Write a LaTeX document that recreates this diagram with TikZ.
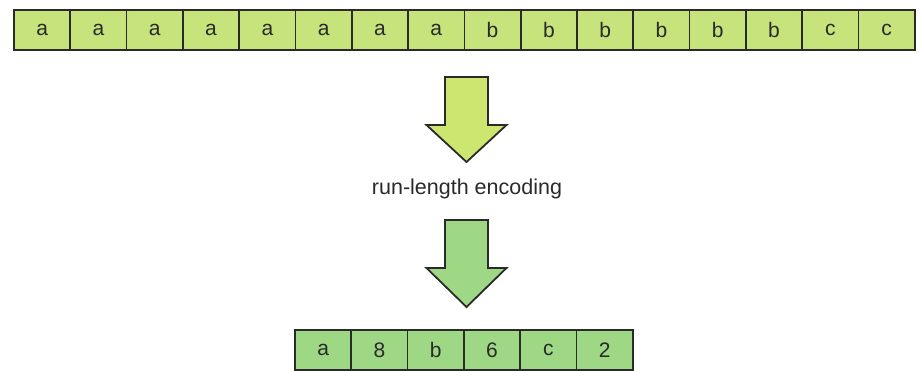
\documentclass[tikz,border=0pt]{standalone}
\usepackage{fontspec}
\setmainfont{Liberation Sans}
\usepackage{xcolor}
\usepackage{tikz}
\definecolor{lime}{HTML}{C6E37C}
\definecolor{leaf}{HTML}{9ED884}
\definecolor{ink}{HTML}{2A2A2A}
\tikzset{
  cell/.style={draw=ink,line width=1.7pt,minimum width=56.3pt,minimum height=40pt,
    inner sep=0pt,font=\fontsize{21}{21}\selectfont,text=ink},
  topcell/.style={cell,fill=lime},
  botcell/.style={cell,fill=leaf},
  bigarrow/.style={draw=ink,line width=1.8pt,line join=miter}
}
\begin{document}
\begin{tikzpicture}[x=1pt,y=1pt]
	\useasboundingbox (0,0) rectangle (919,-371);
	% input string
	\foreach \c [count=\i] in {a,a,a,a,a,a,a,a,b,b,b,b,b,b,c,c}
	  \node[topcell] (t\i) at ({14+56.3*(\i-0.5)},-30) {\c};
	% encoded pairs
	\foreach \c [count=\i] in {a,8,b,6,c,2}
	  \node[botcell] (b\i) at ({295+56.3*(\i-0.5)},-350) {\c};
	% arrows
	\filldraw[bigarrow,fill=lime!90!yellow] (445,-77) -- (488,-77) -- (488,-125) -- (506.5,-125)
	  -- (466.5,-162) -- (426.5,-125) -- (445,-125) -- cycle;
	\node[text=ink,font=\fontsize{21.5}{21.5}\selectfont] (rle) at (467,-189) {run-length encoding};
	\filldraw[bigarrow,fill=leaf] (445,-220) -- (488,-220) -- (488,-268) -- (506.5,-268)
	  -- (466.5,-307) -- (426.5,-268) -- (445,-268) -- cycle;
\end{tikzpicture}
\end{document}
